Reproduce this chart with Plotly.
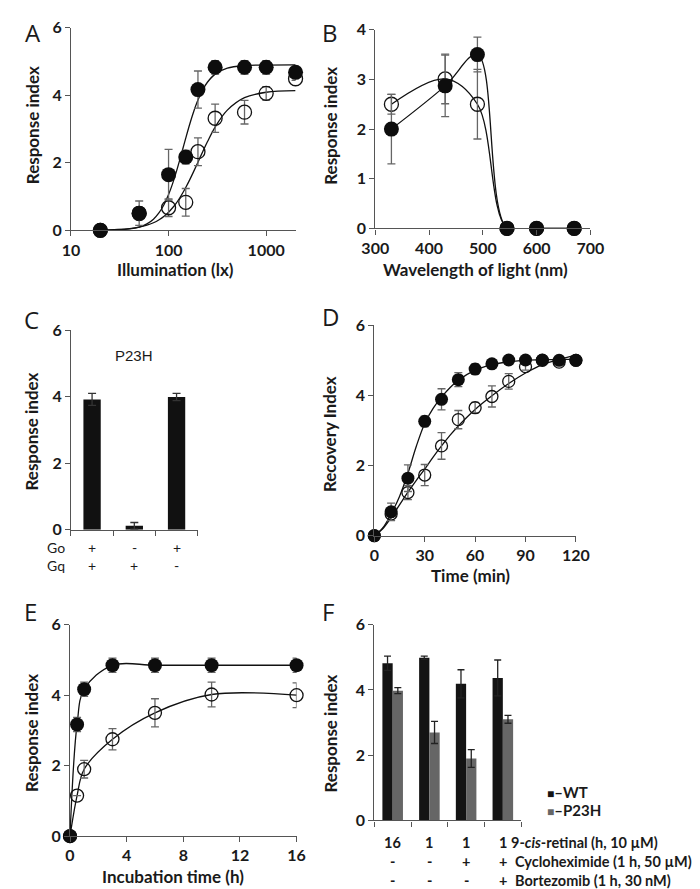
import math
import plotly.graph_objects as go

W, H = 700, 889

# ---------------- data ----------------
# Panel A: illumination response
a_lux = [20, 50, 100, 150, 200, 300, 600, 1000, 2000]
a_wt = [0.0, 0.51, 1.65, 2.17, 4.17, 4.83, 4.83, 4.83, 4.68]
a_wt_err = [0.0, 0.36, 0.75, 0.2, 0.55, 0.2, 0.2, 0.2, 0.1]
a_mut = [0.0, 0.5, 0.67, 0.83, 2.33, 3.32, 3.5, 4.06, 4.49]
a_mut_err = [0.0, 0.0, 0.26, 0.41, 0.41, 0.42, 0.35, 0.2, 0.05]
a_fit_lux = [20, 30, 40, 50, 60, 70, 80, 90, 100, 110, 120, 130, 140, 150,
             165, 180, 200, 225, 250, 300, 400, 600, 1000, 2000]
a_fit_wt = [0.003, 0.015, 0.043, 0.098, 0.191, 0.331, 0.523, 0.767, 1.059,
            1.385, 1.731, 2.08, 2.417, 2.733, 3.152, 3.50, 3.86, 4.176,
            4.387, 4.627, 4.804, 4.879, 4.896, 4.9]
a_fit_mut = [0.008, 0.025, 0.053, 0.095, 0.152, 0.225, 0.315, 0.42, 0.538,
             0.669, 0.809, 0.959, 1.113, 1.269, 1.503, 1.732, 2.02, 2.345,
             2.624, 3.059, 3.56, 3.93, 4.091, 4.141]

# Panel B: wavelength
b_nm = [330, 430, 490, 545, 600, 670]
b_wt = [2.0, 2.87, 3.5, 0.0, 0.0, 0.0]
b_wt_err = [0.7, 0.62, 0.35, 0.0, 0.0, 0.0]
b_mut = [2.5, 3.01, 2.5, 0.0, 0.0, 0.0]
b_mut_err = [0.2, 0.5, 0.7, 0.0, 0.0, 0.0]

# Panel C: G protein dependence (P23H)
c_go = ["+", "-", "+"]
c_gq = ["+", "+", "-"]
c_val = [3.92, 0.12, 3.99]
c_err = [0.18, 0.1, 0.11]

# Panel D: recovery
d_min = [0, 10, 20, 30, 40, 50, 60, 70, 80, 90, 100, 110, 120]
d_wt = [0.0, 0.68, 1.64, 3.26, 3.89, 4.45, 4.75, 4.9, 5.01, 5.01, 5.01, 5.0, 5.0]
d_wt_err = [0.0, 0.25, 0.38, 0.15, 0.3, 0.2, 0.15, 0.1, 0.05, 0.05, 0.05, 0.05, 0.05]
d_mut = [0.0, 0.62, 1.23, 1.73, 2.56, 3.31, 3.65, 3.97, 4.4, 4.82, 5.0, 4.95, 5.0]
d_mut_err = [0.0, 0.0, 0.2, 0.3, 0.38, 0.26, 0.15, 0.3, 0.22, 0.1, 0.05, 0.05, 0.05]
d_fit_min = [0, 5, 10, 15, 20, 25, 30, 35, 40, 45, 50, 60, 70, 80, 90, 100, 110, 120]
d_fit_wt = [0.0, 0.22, 0.62, 1.12, 1.78, 2.55, 3.2, 3.63, 3.95, 4.22, 4.43,
            4.72, 4.88, 4.96, 5.0, 5.02, 5.03, 5.03]
d_fit_mut = [0.0, 0.2, 0.52, 0.88, 1.24, 1.58, 1.9, 2.24, 2.56, 2.86, 3.13,
             3.6, 3.99, 4.34, 4.64, 4.88, 5.03, 5.14]

# Panel E: incubation time
e_h = [0, 0.5, 1, 3, 6, 10, 16]
e_wt = [0.0, 3.17, 4.17, 4.85, 4.85, 4.85, 4.85]
e_wt_err = [0.0, 0.2, 0.2, 0.2, 0.2, 0.2, 0.2]
e_mut = [0.0, 1.15, 1.9, 2.75, 3.5, 4.02, 4.0]
e_mut_err = [0.0, 0.0, 0.25, 0.3, 0.4, 0.35, 0.35]

# Panel F: treatments
f_retinal = ["16", "1", "1", "1"]
f_chx = ["-", "-", "+", "+"]
f_btz = ["-", "-", "-", "+"]
f_rows = ["9-<i>cis</i>-retinal (h, 10 µM)", "Cycloheximide (1 h, 50 µM)",
          "Bortezomib (1 h, 30 nM)"]
f_wt = [4.82, 4.99, 4.19, 4.37]
f_wt_err = [0.22, 0.05, 0.43, 0.55]
f_mut = [3.98, 2.70, 1.90, 3.10]
f_mut_err = [0.09, 0.34, 0.27, 0.12]
f_names = ["WT", "P23H"]

# ---------------- style ----------------
FONT = "Lato"
TXT = "#1a1a1a"
AXC = "#555555"
ERRC = "#666666"


def px(x):
    return x / W


def py(y):
    return 1 - y / H


TICKFONT = dict(family=FONT, size=16, color=TXT, weight="bold")


def axis(dom_px, rng, **kw):
    d = dict(domain=[px(dom_px[0]), px(dom_px[1])], range=rng, showline=True,
             linecolor=AXC, linewidth=1.2, ticks="outside", ticklen=5,
             tickcolor=AXC, tickwidth=1.2, showgrid=False, zeroline=False,
             tickfont=TICKFONT)
    d.update(kw)
    return d


def yaxis(top_px, bot_px, rng, anchor, **kw):
    d = dict(domain=[py(bot_px), py(top_px)], range=rng, anchor=anchor, showline=True,
             linecolor=AXC, linewidth=1.2, ticks="outside", ticklen=5,
             tickcolor=AXC, tickwidth=1.2, showgrid=False, zeroline=False,
             tickfont=TICKFONT)
    d.update(kw)
    return d


fig = go.Figure()


def curve(x, y, xa, ya, shape="linear"):
    fig.add_trace(go.Scatter(x=x, y=y, xaxis=xa, yaxis=ya, mode="lines",
                             line=dict(color="#111", width=1.3, shape=shape, smoothing=1.0),
                             showlegend=False, hoverinfo="skip"))


def pts(x, y, err, xa, ya, filled, size=14):
    if filled:
        mk = dict(symbol="circle", size=size, color="#0d0d0d", line=dict(width=0))
    else:
        mk = dict(symbol="circle-open", size=size - 1, color="#111", line=dict(width=1.3))
    fig.add_trace(go.Scatter(x=x, y=y, xaxis=xa, yaxis=ya, mode="markers", marker=mk,
                             error_y=dict(type="data", array=err, color=ERRC,
                                          thickness=1.3, width=4),
                             cliponaxis=False, showlegend=False))


# A
curve(a_fit_lux, a_fit_mut, "x", "y", "spline")
curve(a_fit_lux, a_fit_wt, "x", "y", "spline")
pts(a_lux, a_mut, a_mut_err, "x", "y", False, 15)
pts(a_lux, a_wt, a_wt_err, "x", "y", True, 15)

# B
curve(b_nm, b_mut, "x2", "y2", "spline")
curve(b_nm, b_wt, "x2", "y2", "spline")
pts(b_nm, b_mut, b_mut_err, "x2", "y2", False, 15)
pts(b_nm, b_wt, b_wt_err, "x2", "y2", True, 15)

# C
fig.add_trace(go.Bar(x=[0, 1, 2], y=c_val, xaxis="x3", yaxis="y3", width=0.41,
                     marker=dict(color="#111", line=dict(width=0)),
                     error_y=dict(type="data", array=c_err, color="#333", thickness=1.3, width=4),
                     showlegend=False))

# D
curve(d_fit_min, d_fit_mut, "x4", "y4", "spline")
curve(d_fit_min, d_fit_wt, "x4", "y4", "spline")
pts(d_min, d_mut, d_mut_err, "x4", "y4", False, 13)
pts(d_min, d_wt, d_wt_err, "x4", "y4", True, 13)

# E
curve(e_h, e_mut, "x5", "y5", "spline")
curve(e_h, e_wt, "x5", "y5", "spline")
pts(e_h, e_mut, e_mut_err, "x5", "y5", False, 14)
pts(e_h, e_wt, e_wt_err, "x5", "y5", True, 14)

# F
fx = [0, 1, 2, 3]
fig.add_trace(go.Bar(x=fx, y=f_wt, xaxis="x6", yaxis="y6", width=0.28, offset=-0.28,
                     marker=dict(color="#141414", line=dict(width=0)), name=f_names[0],
                     error_y=dict(type="data", array=f_wt_err, color="#222", thickness=1.3, width=3.5),
                     showlegend=False))
fig.add_trace(go.Bar(x=fx, y=f_mut, xaxis="x6", yaxis="y6", width=0.28, offset=0.0,
                     marker=dict(color="#666666", line=dict(width=0)), name=f_names[1],
                     error_y=dict(type="data", array=f_mut_err, color="#222", thickness=1.3, width=3.5),
                     showlegend=False))

lay = dict(
    width=W, height=H, margin=dict(l=0, r=0, t=0, b=0),
    paper_bgcolor="white", plot_bgcolor="white", barmode="overlay",
    xaxis=axis((51, 285), [1, math.log10(2000) + 0.0005], type="log", tickvals=[10, 100, 1000],
               ticktext=["10", "100", "1000"], anchor="y"),
    yaxis=yaxis(10, 217, [0, 6], "x", tickvals=[0, 2, 4, 6]),
    xaxis2=axis((368, 592), [300, 700], tickvals=[300, 400, 500, 600, 700], anchor="y2"),
    yaxis2=yaxis(12, 215, [0, 4], "x2", tickvals=[0, 1, 2, 3, 4]),
    xaxis3=axis((51, 183), [-0.5, 2.5], tickvals=[-0.5, 0.5, 1.5, 2.5],
                showticklabels=False, anchor="y3"),
    yaxis3=yaxis(319, 523, [0, 6], "x3", tickvals=[0, 2, 4, 6]),
    xaxis4=axis((367, 577), [0, 120], tickvals=[0, 30, 60, 90, 120], anchor="y4"),
    yaxis4=yaxis(314, 529, [0, 6], "x4", tickvals=[0, 2, 4, 6]),
    xaxis5=axis((50, 286), [0, 16], tickvals=[0, 4, 8, 12, 16], anchor="y5"),
    yaxis5=yaxis(620, 836, [0, 6], "x5", tickvals=[0, 2, 4, 6]),
    xaxis6=axis((367, 520), [-0.5, 3.5], tickvals=[-0.5, 0.5, 1.5, 2.5, 3.5],
                showticklabels=False, anchor="y6"),
    yaxis6=yaxis(620, 820, [0, 6], "x6", tickvals=[0, 2, 4, 6]),
)
fig.update_layout(**lay)

ann = []


def text(x, y, t, size=16, weight="bold", angle=0, xanchor="center", family=FONT,
         xref="paper"):
    ann.append(dict(x=x if xref != "paper" else px(x), y=py(y), xref=xref, yref="paper",
                    text=t, showarrow=False, textangle=angle, xanchor=xanchor,
                    yanchor="middle",
                    font=dict(family=family, size=size, color=TXT, weight=weight)))


# panel letters
for letter, (lx, ly) in {"A": (11, 15), "B": (321, 15), "C": (10, 308), "D": (321, 305),
                         "E": (9, 606), "F": (319, 606)}.items():
    text(lx, ly, letter, size=24, weight="normal", family="Open Sans")

# axis titles
text(11, 110, "Response index", angle=-90, size=17)
text(321, 110, "Response index", angle=-90, size=17)
text(10, 423, "Response index", angle=-90, size=17)
text(321, 425, "Recovery Index", angle=-90, size=17)
text(10, 731, "Response index", angle=-90, size=17)
text(321, 731, "Response index", angle=-90, size=17)
text(160, 257, "Illumination (lx)", size=17)
text(472, 257, "Wavelength of light (nm)", size=17)
text(467, 570, "Time (min)", size=17)
text(157, 877, "Incubation time (h)", size=17)

# panel C labels
ann.append(dict(x=1, y=py(345), xref="x3", yref="paper", text="P23H", showarrow=False,
                font=dict(family="Liberation Sans", size=15, color=TXT)))
text(35, 541, "Go", weight="normal", size=14)
text(35, 559, "Gq", weight="normal", size=14)
for i in range(3):
    text(i, 541, c_go[i], xref="x3", weight="normal", size=14)
    text(i, 559, c_gq[i], xref="x3", weight="normal", size=14)

# panel F labels
for i in range(4):
    text(i, 842, f_retinal[i], xref="x6", size=14.5)
    text(i, 862, f_chx[i], xref="x6", size=14.5)
    text(i, 881, f_btz[i], xref="x6", size=14.5)
text(507, 842, f_rows[0], xanchor="left", size=14.5)
text(511, 862, f_rows[1], xanchor="left", size=14.5)
text(511, 881, f_rows[2], xanchor="left", size=14.5)

# legend for F
text(545, 791, "<span style='color:#141414;font-size:12px'>■</span>–" + f_names[0],
     xanchor="left", size=15)
text(545, 809, "<span style='color:#666666;font-size:12px'>■</span>–" + f_names[1],
     xanchor="left", size=15)

fig.update_layout(annotations=ann)
fig.write_html("out.html")
